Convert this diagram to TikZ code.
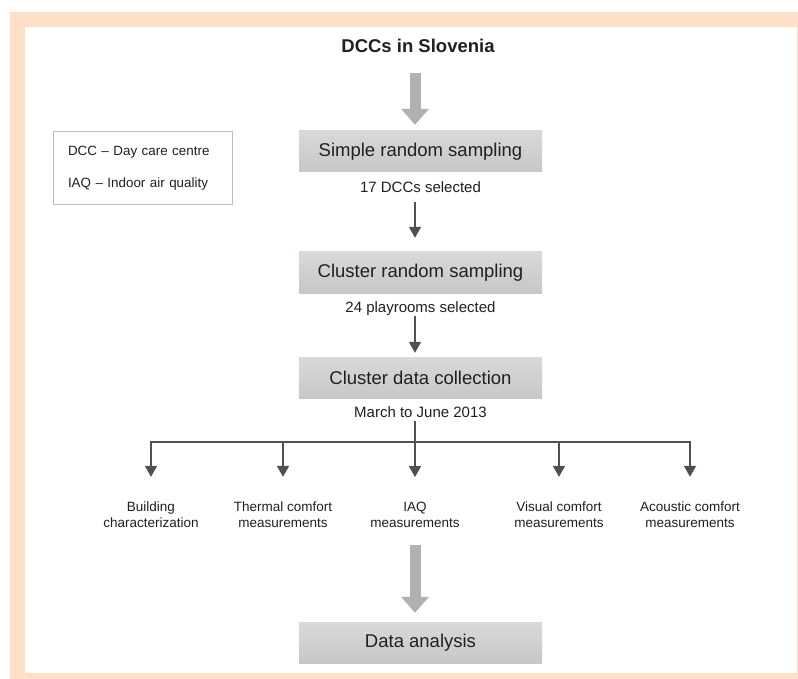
\documentclass[tikz,border=0pt]{standalone}
\usepackage{fontspec}
\setmainfont{Liberation Sans}
\usetikzlibrary{positioning,arrows.meta}
\definecolor{peach}{RGB}{253,224,199}
\definecolor{boxtop}{RGB}{216,217,219}
\definecolor{boxbottom}{RGB}{198,199,201}
\definecolor{flowgray}{RGB}{176,177,179}
\definecolor{linegray}{RGB}{80,80,80}
\definecolor{inkdark}{RGB}{35,31,32}
\definecolor{keyline}{RGB}{190,190,190}

\begin{document}
\begin{tikzpicture}[x=1pt,y=-1pt,node distance=8pt,
          box/.style={top color=boxtop,bottom color=boxbottom,text=inkdark,
            font=\fontsize{18.5}{22}\selectfont,
            minimum width=243pt,minimum height=41pt,inner sep=0pt},
          note/.style={text=inkdark,font=\fontsize{15}{18}\selectfont,
            text height=11pt,text depth=3.2pt,inner sep=0pt},
          item/.style={text=inkdark,font=\fontsize{13.5}{16}\selectfont,
            align=center,inner sep=0pt},
          flow/.style={-{Triangle[length=16pt,width=28pt,line width=0pt]},
            flowgray,line width=11pt},
          link/.style={-{Triangle[length=11pt,width=12pt]},
            linegray,line width=1.6pt}]

        \useasboundingbox (0,0) rectangle (798,679);
        \fill[peach] (10,12) rectangle (798,679);
        \fill[white] (25,27) rectangle (797,673);

        \coordinate (axis) at (415,0);
        \coordinate (fork) at (415,442);

        \node[text=inkdark,font=\fontsize{18.5}{22}\selectfont\bfseries,
          text height=13.5pt,text depth=0pt,inner sep=0pt] (title) at (418,46)
          {DCCs in Slovenia};

        \node[draw=keyline,line width=0.8pt,minimum width=179pt,
          minimum height=73pt,text width=149pt,inner xsep=15pt,align=left,
          text=inkdark,font=\fontsize{13.4}{32}\selectfont] (key) at (142.5,168)
          {DCC -- Day care centre\\IAQ -- Indoor air quality};

        \node[box] (s1) at (420.5,151.5) {Simple random sampling};
        \node[note,below=9pt of s1] (n1) {17 DCCs selected};
        \node[box] (s2) at (420.5,272.5) {Cluster random sampling};
        \node[note,below=of s2] (n2) {24 playrooms selected};
        \node[box] (s3) at (420.5,377.5) {Cluster data collection};
        \node[note,below=of s3] (n3) {March to June 2013};

        \node[item] (m1) at (151,515) {Building\\characterization};
        \node[item] (m2) at (283,515) {Thermal comfort\\measurements};
        \node[item] (m3) at (415,515) {IAQ\\measurements};
        \node[item] (m4) at (559,515) {Visual comfort\\measurements};
        \node[item] (m5) at (690,515) {Acoustic comfort\\measurements};

        \node[box] (s4) at (420.5,642.5) {Data analysis};

        \draw[flow,shorten <=20pt,shorten >=6pt]
          (title.south -| axis) -- (s1.north -| axis);
        \draw[link,shorten <=6pt,shorten >=14pt]
          (n1.south -| axis) -- (s2.north -| axis);
        \draw[link,shorten >=4pt]
          (n2.south -| axis) -- (s3.north -| axis);

        \draw[linegray,line width=1.6pt] (n3.south -| axis) -- (fork);
        \draw[linegray,line width=1.6pt,line cap=rect]
          (fork -| m1) -- (fork -| m5);
        \draw[link,shorten >=25pt] (fork -| m1) -- (m1.north);
        \draw[link,shorten >=25pt] (fork -| m2) -- (m2.north);
        \draw[link,shorten >=25pt] (fork -| m3) -- (m3.north);
        \draw[link,shorten >=25pt] (fork -| m4) -- (m4.north);
        \draw[link,shorten >=25pt] (fork -| m5) -- (m5.north);

        \draw[flow,shorten <=17pt,shorten >=9pt]
          (m3.south -| axis) -- (s4.north -| axis);


      \end{tikzpicture}
\end{document}
